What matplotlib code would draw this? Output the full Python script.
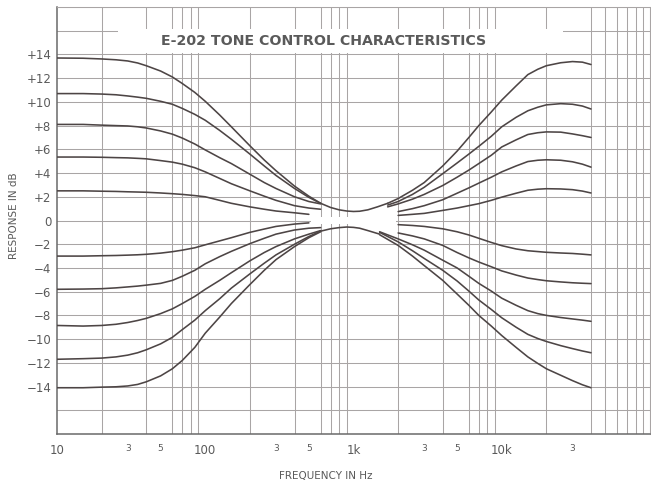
import matplotlib
matplotlib.use("Agg")
import matplotlib.pyplot as plt
from matplotlib.patches import Rectangle
from matplotlib.ticker import FixedLocator, NullFormatter

# ---- data (Hz, dB) ----
bass_freq = [10, 15, 20, 25, 30, 35, 40, 50, 60, 70, 85, 100, 125, 150, 200, 250, 300, 400, 500, 600]
bass_freq_short = bass_freq[:-1]

bass_boost_1 = [13.7, 13.68, 13.62, 13.55, 13.45, 13.28, 13.05, 12.6, 12.1, 11.55, 10.8, 10.05,
                8.9, 7.9, 6.3, 5.1, 4.2, 2.9, 2.05, 1.45]
bass_boost_2 = [10.7, 10.7, 10.66, 10.6, 10.5, 10.4, 10.3, 10.05, 9.8, 9.45, 8.95, 8.45,
                7.6, 6.85, 5.6, 4.6, 3.8, 2.7, 1.95, 1.45]
bass_boost_3 = [8.1, 8.1, 8.04, 8.0, 7.97, 7.9, 7.8, 7.55, 7.28, 6.95, 6.45, 5.95,
                5.3, 4.8, 3.9, 3.2, 2.7, 2.0, 1.6, 1.4]
bass_boost_4 = [5.35, 5.35, 5.33, 5.3, 5.28, 5.24, 5.2, 5.05, 4.92, 4.75, 4.45, 4.1,
                3.55, 3.1, 2.5, 2.05, 1.7, 1.25, 1.05, 0.95]
bass_boost_5 = [2.5, 2.5, 2.47, 2.45, 2.42, 2.4, 2.38, 2.32, 2.26, 2.2, 2.1, 2.0,
                1.7, 1.45, 1.15, 0.95, 0.8, 0.65, 0.52]

bass_cut_1 = [-3.0, -3.0, -2.97, -2.95, -2.92, -2.89, -2.85, -2.75, -2.63, -2.5, -2.3, -2.05,
              -1.72, -1.45, -1.0, -0.72, -0.5, -0.3, -0.2]
bass_cut_2 = [-5.8, -5.78, -5.75, -5.68, -5.6, -5.53, -5.45, -5.3, -5.05, -4.7, -4.2, -3.65,
              -3.05, -2.6, -1.95, -1.5, -1.15, -0.8, -0.65, -0.6]
bass_cut_3 = [-8.85, -8.9, -8.85, -8.75, -8.6, -8.43, -8.25, -7.85, -7.45, -7.0, -6.4, -5.8,
              -5.05, -4.4, -3.4, -2.7, -2.2, -1.55, -1.15, -0.85]
bass_cut_4 = [-11.7, -11.65, -11.6, -11.5, -11.35, -11.15, -10.9, -10.4, -9.85, -9.2, -8.4, -7.6,
              -6.6, -5.7, -4.5, -3.6, -2.9, -2.0, -1.35, -0.9]
bass_cut_5 = [-14.1, -14.1, -14.05, -14.02, -13.95, -13.82, -13.6, -13.1, -12.5, -11.8, -10.7, -9.5,
              -8.15, -7.0, -5.4, -4.2, -3.3, -2.2, -1.45, -0.95]

mid_upper_freq = [600, 700, 800, 900, 1000, 1100, 1250, 1450, 1700]
mid_upper = [1.45, 1.1, 0.9, 0.8, 0.76, 0.78, 0.9, 1.15, 1.45]
mid_lower_freq = [600, 700, 800, 900, 1000, 1100, 1250, 1500]
mid_lower = [-0.9, -0.7, -0.6, -0.55, -0.58, -0.65, -0.85, -1.15]

treble_freq_short = [2000, 2500, 3000, 4000, 5000, 6000, 7000, 8500, 10000, 12500, 15000,
                     17500, 20000, 25000, 30000, 35000, 40000]
treble_freq = [1700] + treble_freq_short
treble_cut_freq = [1500] + treble_freq_short

treble_boost_1 = [1.45, 1.85, 2.55, 3.2, 4.6, 5.85, 7.0, 8.0, 9.15, 10.15, 11.35, 12.3,
                  12.75, 13.05, 13.3, 13.4, 13.35, 13.15]
treble_boost_2 = [1.3, 1.6, 2.2, 2.8, 3.95, 4.85, 5.6, 6.25, 7.1, 7.9, 8.7, 9.25,
                  9.55, 9.75, 9.85, 9.8, 9.65, 9.4]
treble_boost_3 = [1.15, 1.4, 1.8, 2.2, 2.95, 3.65, 4.25, 4.8, 5.5, 6.2, 6.8, 7.25,
                  7.4, 7.47, 7.45, 7.3, 7.15, 7.0]
treble_boost_4 = [0.75, 1.0, 1.25, 1.75, 2.3, 2.75, 3.15, 3.65, 4.1, 4.6, 4.97,
                  5.08, 5.12, 5.08, 4.95, 4.75, 4.5]
treble_boost_5 = [0.43, 0.52, 0.6, 0.85, 1.05, 1.25, 1.42, 1.7, 1.97, 2.3, 2.55,
                  2.64, 2.68, 2.66, 2.6, 2.48, 2.32]

treble_cut_1 = [-0.35, -0.42, -0.5, -0.7, -0.95, -1.22, -1.5, -1.85, -2.12, -2.4, -2.55,
                -2.62, -2.68, -2.74, -2.78, -2.84, -2.9]
treble_cut_2 = [-1.05, -1.3, -1.55, -2.1, -2.7, -3.15, -3.5, -3.9, -4.25, -4.6, -4.85,
                -4.98, -5.08, -5.18, -5.25, -5.29, -5.32]
treble_cut_3 = [-0.95, -1.55, -2.05, -2.5, -3.35, -4.0, -4.7, -5.3, -5.95, -6.55, -7.15,
                -7.6, -7.85, -8.0, -8.18, -8.3, -8.4, -8.5]
treble_cut_4 = [-1.0, -1.8, -2.55, -3.2, -4.2, -5.1, -5.95, -6.7, -7.5, -8.2, -9.0,
                -9.6, -9.95, -10.2, -10.55, -10.8, -11.0, -11.15]
treble_cut_5 = [-1.2, -2.1, -3.0, -3.8, -5.05, -6.2, -7.15, -8.0, -8.9, -9.7, -10.7,
                -11.5, -12.05, -12.5, -13.05, -13.5, -13.85, -14.1]

x_label_freqs = [10, 30, 50, 100, 300, 500, 1000, 3000, 5000, 10000, 30000]
x_label_texts = ["10", "3", "5", "100", "3", "5", "1k", "3", "5", "10k", "3"]

curves = [
    (bass_freq, bass_boost_1), (bass_freq, bass_boost_2), (bass_freq, bass_boost_3),
    (bass_freq, bass_boost_4), (bass_freq_short, bass_boost_5),
    (bass_freq_short, bass_cut_1), (bass_freq, bass_cut_2), (bass_freq, bass_cut_3),
    (bass_freq, bass_cut_4), (bass_freq, bass_cut_5),
    (mid_upper_freq, mid_upper), (mid_lower_freq, mid_lower),
    (treble_freq, treble_boost_1), (treble_freq, treble_boost_2), (treble_freq, treble_boost_3),
    (treble_freq_short, treble_boost_4), (treble_freq_short, treble_boost_5),
    (treble_freq_short, treble_cut_1), (treble_freq_short, treble_cut_2),
    (treble_cut_freq, treble_cut_3), (treble_cut_freq, treble_cut_4), (treble_cut_freq, treble_cut_5),
]

W, H = 651, 484
fig = plt.figure(figsize=(W / 100, H / 100), dpi=100)
fig.patch.set_facecolor("white")
ax = fig.add_axes([57 / W, 50 / H, 593 / W, 427 / H])

ax.set_xscale("log")
ax.set_xlim(10, 100000)
ax.set_ylim(-18, 18)

# grid: every 1..9 of each decade, every 2 dB
grid_x = [m * 10 ** d for d in range(1, 5) for m in range(1, 10)] + [100000]
ax.xaxis.set_minor_locator(FixedLocator(grid_x))
ax.xaxis.set_minor_formatter(NullFormatter())
ax.xaxis.set_major_locator(FixedLocator(x_label_freqs))
ax.set_xticklabels(x_label_texts)
y_grid = list(range(-18, 19, 2))
ax.set_yticks(y_grid)
ax.set_yticklabels(["" if abs(v) > 14 else ("+%d" % v if v > 0 else ("0" if v == 0 else "\u2212%d" % -v))
                    for v in y_grid])
ax.grid(True, which="minor", axis="x", color="#a9a5a5", lw=0.75)
ax.grid(True, which="major", axis="y", color="#a9a5a5", lw=0.75)
ax.set_axisbelow(True)
ax.tick_params(which="both", length=0)
ax.tick_params(axis="y", pad=4, labelsize=8.5, labelcolor="#5a5a5a")
ax.tick_params(axis="x", pad=7, labelsize=8.5, labelcolor="#5a5a5a")
for lab in ax.get_xticklabels():
    if lab.get_text() in ("3", "5"):
        lab.set_fontsize(6.5)

for s in ["left", "bottom"]:
    ax.spines[s].set_color("#6a6a6a")
    ax.spines[s].set_linewidth(1.1)
for s in ["top", "right"]:
    ax.spines[s].set_color("#a9a5a5")
    ax.spines[s].set_linewidth(0.75)

# white title band and the gap around 1 kHz
ax.add_patch(Rectangle((0.103, 0.893), 0.75, 0.056, transform=ax.transAxes,
                       facecolor="white", edgecolor="none", zorder=1))
ax.add_patch(Rectangle((520, -0.3), 1950 - 520, 0.6, facecolor="white",
                       edgecolor="none", zorder=1))

for f, db in curves:
    ax.plot(f, db, color="#4d4545", lw=1.15, zorder=3, solid_capstyle="round")

ax.text(0.45, 0.92, "E-202 TONE CONTROL CHARACTERISTICS", transform=ax.transAxes,
        ha="center", va="center", fontsize=10.2, fontweight="bold", color="#5a5a5a", zorder=4)
fig.text(14 / W, 1 - 216 / H, "RESPONSE IN dB", rotation=90, ha="center", va="center",
         fontsize=7.5, color="#5a5a5a")
fig.text(326 / W, 1 - 476 / H, "FREQUENCY IN Hz", ha="center", va="center",
         fontsize=7.5, color="#5a5a5a")

fig.savefig("out.png", dpi=100)
